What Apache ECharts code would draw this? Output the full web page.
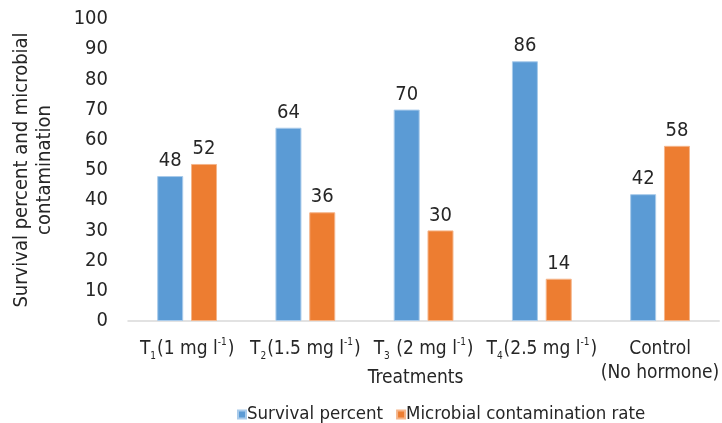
<!DOCTYPE html>
<html><head><meta charset="utf-8">
<script src="https://cdn.jsdelivr.net/npm/echarts@6/dist/echarts.min.js"></script>
<style>html,body{margin:0;padding:0;background:#fff}#c{width:722px;height:423px}</style>
</head><body><div id="c"></div>
<script>
const categories = ['T1', 'T2', 'T3', 'T4', 'Control'];
const catLabels = [
  '{m|T}{sub|1}{m|(1 mg l}{sup|-1}{m|)}',
  '{m|T}{sub|2}{m|(1.5 mg l}{sup|-1}{m|)}',
  '{m|T}{sub|3}{m| (2 mg l}{sup|-1}{m|)}',
  '{m|T}{sub|4}{m|(2.5 mg l}{sup|-1}{m|)}',
  '{m|Control}\n{m|(No hormone)}'
];
const survival = [48, 64, 70, 86, 42];
const contamination = [52, 36, 30, 14, 58];
const seriesNames = ['Survival percent', 'Microbial contamination rate'];
const yTicks = { min: 0, max: 100, interval: 10 };

const FONT = '"Liberation Sans Narrow", "DejaVu Sans Condensed", "Liberation Sans", Arial, sans-serif';
const TXT = '#262626';
const chart = echarts.init(document.getElementById('c'));
chart.setOption({
  animation: false,
  textStyle: { fontFamily: FONT, color: TXT },
  grid: { left: 128, right: 0, top: 19, bottom: 102, containLabel: false },
  legend: {
    top: 400, left: 232, itemWidth: 8, itemHeight: 8, itemGap: 13,
    icon: 'rect',
    textStyle: { fontFamily: FONT, fontSize: 18.5, color: TXT, padding: [0, 0, 0, -4] },
    data: seriesNames
  },
  xAxis: {
    type: 'category',
    data: categories,
    name: 'Treatments',
    nameLocation: 'middle',
    nameGap: 48,
    nameMoveOverlap: false,
    nameTextStyle: { fontFamily: FONT, fontSize: 19, color: TXT, padding: [0, 16, 0, 0] },
    axisLine: { lineStyle: { color: '#d9d9d9', width: 1.5 } },
    axisTick: { show: false },
    axisLabel: {
      margin: 16,
      interval: 0,
      formatter: (v, i) => catLabels[i],
      rich: {
        m: { fontFamily: FONT, fontSize: 19, color: TXT, lineHeight: 24 },
        sub: { fontFamily: FONT, fontSize: 10, color: TXT, verticalAlign: 'bottom', lineHeight: 24, padding: [0, 1, 0, 0] },
        sup: { fontFamily: FONT, fontSize: 10, color: TXT, verticalAlign: 'top', lineHeight: 24, padding: [0, 1, 0, 0] }
      }
    }
  },
  yAxis: {
    type: 'value',
    min: yTicks.min, max: yTicks.max, interval: yTicks.interval,
    name: 'Survival percent and microbial\ncontamination',
    nameLocation: 'middle',
    nameRotate: 90,
    nameGap: 72,
    nameMoveOverlap: false,
    nameTextStyle: { fontFamily: FONT, fontSize: 20, color: TXT, lineHeight: 23 },
    splitLine: { show: false },
    axisLine: { show: false },
    axisTick: { show: false },
    axisLabel: { margin: 20, fontFamily: FONT, fontSize: 20, color: TXT }
  },
  series: [
    {
      name: seriesNames[0], type: 'bar', data: survival,
      barWidth: 26, barGap: '30%',
      itemStyle: { color: '#5B9BD5', borderColor: '#a9cbeb', borderWidth: 1 },
      label: { show: true, position: 'top', distance: 5, fontFamily: FONT, fontSize: 20, color: TXT }
    },
    {
      name: seriesNames[1], type: 'bar', data: contamination,
      barWidth: 26,
      itemStyle: { color: '#ED7D31', borderColor: '#f5b58a', borderWidth: 1 },
      label: { show: true, position: 'top', distance: 5, fontFamily: FONT, fontSize: 20, color: TXT }
    }
  ]
});
</script></body></html>
